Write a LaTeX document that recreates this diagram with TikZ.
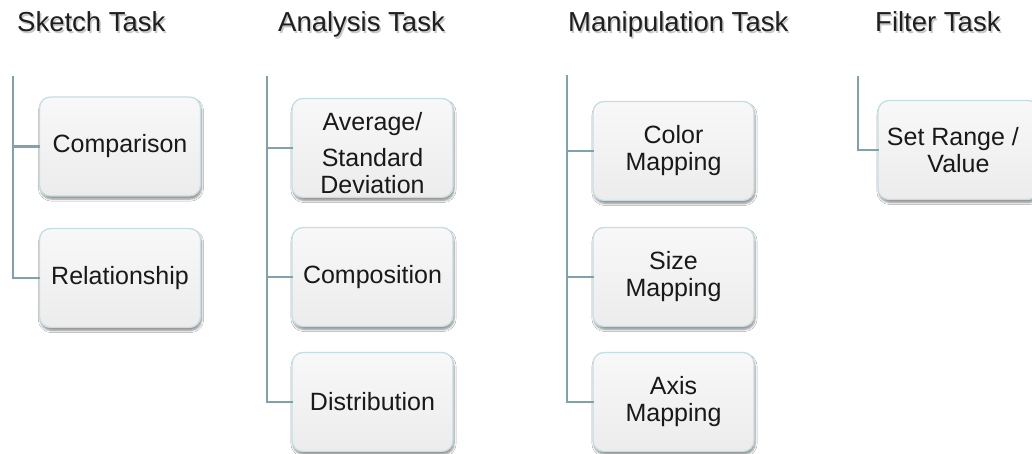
\documentclass[tikz,border=0pt]{standalone}
\usepackage{fontspec}
\setmainfont{Liberation Sans}
\usetikzlibrary{shadows.blur}
\definecolor{stem}{HTML}{7FA2AB}
\definecolor{boxedge}{HTML}{C4DEE3}
\definecolor{boxtop}{HTML}{F8F8F8}
\definecolor{boxbot}{HTML}{ECECEC}
\tikzset{
  tasktitle/.style={anchor=base west, inner sep=0pt, font=\fontsize{27.5}{30}\selectfont,
    text=black!88},
  titleshade/.style={anchor=base west, inner sep=0pt, font=\fontsize{27.5}{30}\selectfont,
    text=black, opacity=0.22},
  leaf/.style={draw=boxedge, line width=1.3pt, rounded corners=11pt,
    top color=boxtop, bottom color=boxbot,
    minimum width=161pt, minimum height=99pt, inner sep=0pt, align=center,
    font=\fontsize{25}{27}\selectfont, text=black!90,
    blur shadow={shadow xshift=1pt, shadow yshift=-3pt, shadow blur steps=6,
      shadow opacity=45}},
  branch/.style={draw=stem, line width=2.8pt}
}
\begin{document}
\begin{tikzpicture}[x=1pt, y=-1pt]
\useasboundingbox (0,0) rectangle (1032,454);
\clip (0,0) rectangle (1032,454);
\fill[white] (0,0) rectangle (1032,454);

% column headings, each with a faint drop shadow
\foreach \x/\t in {17/Sketch Task, 278/Analysis Task, 568/Manipulation Task, 875/Filter Task}{
  \node[titleshade] at (\x+1.5,33.5) {\t};
}
\node[tasktitle] (tsk) at (17,32) {Sketch Task};
\node[tasktitle] (tan) at (278,32) {Analysis Task};
\node[tasktitle] (tma) at (568,32) {Manipulation Task};
\node[tasktitle] (tfi) at (875,32) {Filter Task};

% stems
\coordinate (s0) at (13,77);
\coordinate (a0) at (267,77);
\coordinate (m0) at (567,76);
\coordinate (f0) at (858,77);

% Sketch Task
\node[leaf] (cmp) at (120,146.5) {Comparison};
\node[leaf] (rel) at (120,278) {Relationship};
% Analysis Task
\node[leaf] (avg) at (372.5,148) {\rule{0pt}{28pt}Average/\\[9pt]Standard\\Deviation};
\node[leaf] (cps) at (372.5,277) {Composition};
\node[leaf] (dst) at (372.5,402) {Distribution};
% Manipulation Task
\node[leaf] (col) at (673.5,151) {Color\\Mapping};
\node[leaf] (siz) at (673.5,277) {Size\\Mapping};
\node[leaf] (axs) at (673.5,402) {Axis\\Mapping};
% Filter Task
\node[leaf] (flt) at (958.5,150) {Set Range /\phantom{ii}\\Value};

% connectors: stem down, then across to each box
\begin{scope}[line cap=rect]
\draw[branch] (s0) |- (cmp.west);
\draw[branch] (s0) |- (rel.west);
\draw[branch] (a0) |- (avg.west);
\draw[branch] (a0) |- (cps.west);
\draw[branch] (a0) |- (dst.west);
\draw[branch] (m0) |- (col.west);
\draw[branch] (m0) |- (siz.west);
\draw[branch] (m0) |- (axs.west);
\draw[branch] (f0) |- (flt.west);
\end{scope}
\end{tikzpicture}
\end{document}
